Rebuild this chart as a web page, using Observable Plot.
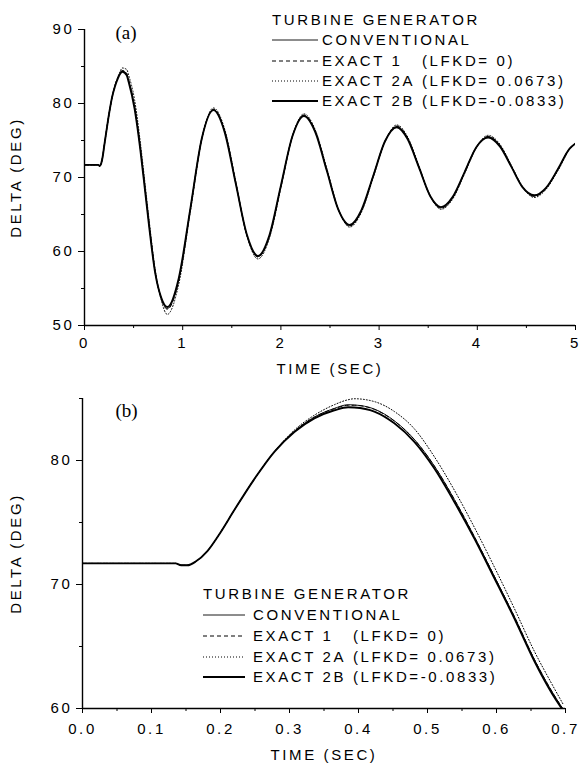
<!DOCTYPE html>
<html><head><meta charset="utf-8">
<script src="https://cdn.jsdelivr.net/npm/d3@7"></script>
<script src="https://cdn.jsdelivr.net/npm/@observablehq/plot@0.6"></script>
<style>
body{margin:0;background:#fff;}
#wrap{position:relative;width:580px;height:765px;overflow:hidden;background:#fff;}
#wrap svg{position:absolute;left:0;overflow:visible;}
#wrap svg text{letter-spacing:2.6px;fill:#000;}
#wrap svg text.panel, #wrap svg .panel text{letter-spacing:0;}
</style></head><body><div id="wrap"></div>
<script>
// ---------- series ----------
const seriesKeys   = ["conv", "ex1", "ex2a", "ex2b"];
const seriesNames  = ["CONVENTIONAL", "EXACT 1", "EXACT 2A", "EXACT 2B"];
const seriesParams = ["", "(LFKD= 0)", "(LFKD= 0.0673)", "(LFKD=-0.0833)"];
const legendTitle  = "TURBINE GENERATOR";

// ---------- panel (a): 0 - 5 s ----------
const timeA = [0,0.14,0.155,0.17,0.185,0.2,0.22,0.25,0.28,0.31,
  0.34,0.365,0.385,0.43,0.45,0.51,0.57,0.617,0.66,0.72,
  0.78,0.843,0.96,1.078,1.195,1.313,1.426,1.54,1.653,1.766,
  1.883,2.0,2.118,2.235,2.351,2.468,2.584,2.70,2.82,2.94,
  3.06,3.18,3.29,3.405,3.52,3.63,3.75,3.87,3.99,4.11,
  4.23,4.345,4.46,4.58,4.7,4.82,4.94,5.0];
const convA = [71.7,71.7,71.55,71.9,72.8,74.2,76.0,78.6,80.8,82.4,
  83.5,84.2,84.45,84.0,83.1,79.5,73.8,68.4,63.4,57.2,
  53.8,52.3,56.2,65.75,75.3,79.2,76.3,69.25,62.2,59.3,
  62.1,68.85,75.6,78.4,76.2,70.95,65.7,63.5,65.5,70.2,
  74.9,76.9,75.3,71.4,67.5,65.9,67.3,70.7,74.1,75.5,
  74.3,71.5,68.7,67.5,68.6,71.1,73.9,74.6];
const ex1A = [71.7,71.7,71.55,71.9,72.8,74.2,76.0,78.6,80.8,82.4,
  83.5,84.2,84.45,84.05,83.15,79.6,73.9,68.5,63.5,57.2,
  53.7,52.2,56.1,65.7,75.3,79.2,76.35,69.3,62.2,59.25,
  62.0,68.8,75.6,78.45,76.25,71.0,65.7,63.45,65.45,70.2,
  74.9,76.95,75.35,71.45,67.5,65.85,67.25,70.7,74.1,75.55,
  74.35,71.55,68.7,67.45,68.55,71.1,73.9,74.6];
const ex2aA = [71.7,71.7,71.55,71.9,72.8,74.2,76.0,78.6,80.7,82.4,
  83.6,84.4,84.8,84.6,83.8,80.5,74.6,69.1,64.0,57.5,
  53.5,51.5,55.6,65.4,75.2,79.4,76.6,69.5,62.2,59.0,
  61.8,68.6,75.6,78.6,76.4,71.2,65.8,63.3,65.3,70.0,
  74.8,77.1,75.5,71.6,67.6,65.7,67.1,70.5,74.0,75.7,
  74.5,71.7,68.8,67.3,68.4,70.9,73.8,74.6];
const ex2bA = [71.7,71.7,71.55,71.9,72.8,74.2,76.0,78.6,80.8,82.3,
  83.4,84.05,84.3,83.8,82.9,79.3,73.6,68.2,63.2,57.1,
  53.8,52.5,56.4,65.8,75.3,79.1,76.2,69.2,62.3,59.4,
  62.2,68.9,75.6,78.3,76.1,70.9,65.7,63.6,65.6,70.2,
  74.9,76.8,75.2,71.4,67.5,66.0,67.4,70.7,74.1,75.4,
  74.2,71.5,68.7,67.6,68.6,71.1,73.9,74.6];
const xTicksA = [0,1,2,3,4,5];
const xMinorA = [0.5,1.5,2.5,3.5,4.5];
const yTicksA = [50,60,70,80,90];
const yMinorA = [55,65,75,85];

// ---------- panel (b): 0 - 0.7 s ----------
const timeB = [0,0.135,0.143,0.152,0.164,0.181,0.2,0.22,0.249,0.278,
  0.307,0.336,0.365,0.385,0.394,0.423,0.452,0.481,0.51,0.539,
  0.568,0.597,0.626,0.655,0.68,0.697];
const convB = [71.7,71.7,71.55,71.55,71.85,72.7,74.2,76.0,78.5,80.7,
  82.35,83.5,84.2,84.5,84.48,84.15,83.2,81.7,79.55,76.85,
  73.85,70.65,67.4,63.95,61.4,59.9];
const ex1B = [71.7,71.7,71.55,71.55,71.85,72.7,74.2,76.0,78.5,80.7,
  82.35,83.5,84.18,84.45,84.45,84.12,83.18,81.68,79.55,76.85,
  73.85,70.65,67.4,63.95,61.4,59.9];
const ex2aB = [71.7,71.7,71.55,71.55,71.85,72.7,74.2,76.0,78.5,80.7,
  82.45,83.65,84.5,84.9,84.98,84.75,83.95,82.55,80.3,77.6,
  74.6,71.4,68.05,64.6,62.0,60.3];
const ex2bB = [71.7,71.7,71.55,71.55,71.85,72.7,74.2,76.0,78.5,80.7,
  82.3,83.4,84.05,84.3,84.28,83.95,83.0,81.5,79.35,76.65,
  73.7,70.5,67.25,63.8,61.25,59.8];
const xTicksB = [0,0.1,0.2,0.3,0.4,0.5,0.6,0.7];
const xMinorB = [0.05,0.15,0.25,0.35,0.45,0.55,0.65];
const yTicksB = [60,70,80];
const yMinorB = [65,75,85];

// ---------- styles ----------
const FONT = '"Liberation Sans", Arial, Helvetica, sans-serif';
const FS = 15;
const lineStyle = {
  conv: {strokeWidth: 0.9, strokeDasharray: null},
  ex1:  {strokeWidth: 1.0, strokeDasharray: "4,3"},
  ex2a: {strokeWidth: 1.0, strokeDasharray: "1,2"},
  ex2b: {strokeWidth: 1.9, strokeDasharray: null}
};

function rows(times, vals) { return times.map((t, i) => ({t, v: vals[i]})); }

function panel(cfg) {
  const lines = seriesKeys.map((k, i) => Plot.line(rows(cfg.time, cfg.values[i]), {
    x: "t", y: "v", curve: "monotone-x", stroke: "#000", clip: true,
    strokeWidth: lineStyle[k].strokeWidth,
    strokeDasharray: lineStyle[k].strokeDasharray
  }));
  return Plot.plot({
    width: 580, height: cfg.height,
    marginTop: cfg.mt, marginBottom: cfg.mb, marginLeft: cfg.ml, marginRight: cfg.mr,
    x: {domain: cfg.xDomain},
    y: {domain: cfg.yDomain},
    style: {fontFamily: FONT, fontSize: FS + "px", color: "#000", background: "transparent"},
    marks: [
      Plot.axisX({ticks: cfg.xTicks, tickSize: 5, tickPadding: cfg.xPad, tickFormat: cfg.xFormat, label: null, fontSize: FS, stroke: "#000"}),
      Plot.axisX({ticks: cfg.xMinor, tickSize: 3, tickFormat: () => "", label: null, stroke: "#000"}),
      Plot.axisY({ticks: cfg.yTicks, tickSize: 6, tickPadding: 4, label: null, fontSize: FS, stroke: "#000"}),
      Plot.axisY({ticks: cfg.yMinor, tickSize: 3, tickFormat: () => "", label: null, stroke: "#000"}),
      ...lines,
      Plot.ruleX([cfg.xDomain[0]], {stroke: "#000", strokeWidth: 1.4}),
      Plot.ruleY([cfg.yDomain[0]], {stroke: "#000", strokeWidth: 1.4}),
      Plot.text(["DELTA (DEG)"], {text: d => d, frameAnchor: "left", dx: cfg.yTitleDx, rotate: -90, fontSize: FS, textAnchor: "middle", lineAnchor: "middle"}),
      Plot.text(["TIME (SEC)"], {text: d => d, frameAnchor: "bottom", dy: cfg.xTitleDy, fontSize: FS, textAnchor: "middle", lineAnchor: "middle"}),
      Plot.text([cfg.tag], {text: d => d, frameAnchor: "top-left", dx: cfg.tagDx, dy: cfg.tagDy, fontSize: 19, fontFamily: '"Liberation Serif", "Times New Roman", serif', textAnchor: "start", lineAnchor: "middle", className: "panel"})
    ]
  });
}

function legend(x0, lineEnd, textX, paramX, ys) {
  const svg = d3.create("svg").attr("width", 580).attr("height", 765)
    .style("top", "0px").style("pointer-events", "none")
    .attr("font-family", FONT).attr("font-size", FS);
  svg.append("text").attr("x", x0).attr("y", ys[0]).attr("dy", "0.36em").text(legendTitle);
  seriesKeys.forEach((k, i) => {
    const y = ys[i + 1];
    svg.append("line").attr("x1", x0).attr("x2", lineEnd).attr("y1", y).attr("y2", y)
      .attr("stroke", "#000").attr("stroke-width", lineStyle[k].strokeWidth)
      .attr("stroke-dasharray", lineStyle[k].strokeDasharray);
    svg.append("text").attr("x", textX).attr("y", y).attr("dy", "0.36em").text(seriesNames[i]);
    if (seriesParams[i]) svg.append("text").attr("x", paramX).attr("y", y).attr("dy", "0.36em").text(seriesParams[i]);
  });
  return svg.node();
}

const wrap = document.getElementById("wrap");

const pa = panel({
  time: timeA, values: [convA, ex1A, ex2aA, ex2bA],
  height: 370, mt: 29, mb: 45, ml: 84, mr: 5,
  xDomain: [0, 5], yDomain: [50, 90],
  xTicks: xTicksA, xMinor: xMinorA, yTicks: yTicksA, yMinor: yMinorA,
  xFormat: d3.format("d"), xPad: 7,
  yTitleDx: -68, xTitleDy: 44, tag: "(a)", tagDx: 31, tagDy: 3
});
pa.style.top = "0px";
wrap.appendChild(pa);

const pb = panel({
  time: timeB, values: [convB, ex1B, ex2aB, ex2bB],
  height: 395, mt: 28, mb: 57, ml: 82, mr: 15,
  xDomain: [0, 0.7], yDomain: [60, 85],
  xTicks: xTicksB, xMinor: xMinorB, yTicks: yTicksB, yMinor: yMinorB,
  xFormat: d3.format(".1f"), xPad: 10,
  yTitleDx: -66, xTitleDy: 47, tag: "(b)", tagDx: 33, tagDy: 12
});
pb.style.top = "370px";
wrap.appendChild(pb);

wrap.appendChild(legend(272, 318, 322, 422, [20, 40, 61, 81, 101]));
wrap.appendChild(legend(203, 245, 253, 353, [594, 615, 636, 657, 677]));
</script></body></html>
